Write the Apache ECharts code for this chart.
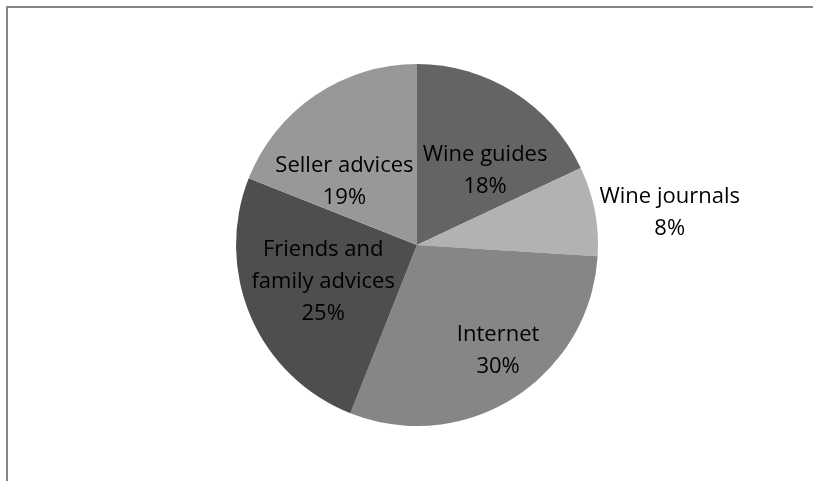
<!DOCTYPE html>
<html>
<head>
<meta charset="utf-8">
<script src="https://cdn.jsdelivr.net/npm/echarts@6/dist/echarts.min.js"></script>
<style>
html,body{margin:0;padding:0;background:#fff;}
#chart{width:813px;height:481px;}
</style>
</head>
<body>
<div id="chart"></div>
<script>
const categories = ['Wine guides', 'Wine journals', 'Internet', 'Friends and\nfamily advices', 'Seller advices'];
const values = [18, 8, 30, 25, 19];
const colors = ['#646464', '#b2b2b2', '#868686', '#4e4e4e', '#989898'];
// label placement style: which slices have labels outside, and small nudges
const outsideLabel = [false, true, false, false, false];
const labelNudge = [[18, 5], [0, 3], [31, 27], [-8, 0], [-20, 14]];

const FONT = '"Open Sans", "Noto Sans", sans-serif';
const FS = 22;
const chart = echarts.init(document.getElementById('chart'), null, {renderer: 'canvas'});

const data = categories.map((c, i) => {
  const item = {
    name: c,
    value: values[i],
    itemStyle: {color: colors[i]}
  };
  if (outsideLabel[i]) {
    item.label = {
      position: 'outside',
      distanceToLabelLine: 0,
      formatter: p => '{t|' + p.name + '}\n{t|' + Math.round(p.percent) + '%}',
      rich: {t: {width: 140, align: 'center', fontSize: FS, lineHeight: 32, fontFamily: FONT, color: '#000'}}
    };
    item.labelLine = {show: false, length: 5, length2: 0};
  }
  return item;
});

chart.setOption({
  animation: false,
  backgroundColor: '#fff',
  graphic: [{
    type: 'polyline',
    shape: {points: [[7, 600], [7, 7], [1000, 7]]},
    style: {fill: 'none', stroke: '#868686', lineWidth: 2},
    silent: true
  }],
  series: [{
    type: 'pie',
    center: [417, 245],
    radius: 181,
    startAngle: 90,
    clockwise: true,
    avoidLabelOverlap: false,
    emphasis: {disabled: true},
    itemStyle: {borderWidth: 0},
    label: {
      show: true,
      position: 'inside',
      color: '#000',
      fontSize: FS,
      lineHeight: 32,
      fontFamily: FONT,
      align: 'center',
      formatter: p => p.name + '\n' + Math.round(p.percent) + '%'
    },
    labelLine: {show: false, length: 5, length2: 0},
    labelLayout: p => ({dx: labelNudge[p.dataIndex][0], dy: labelNudge[p.dataIndex][1]}),
    data: data
  }]
});
</script>
</body>
</html>
